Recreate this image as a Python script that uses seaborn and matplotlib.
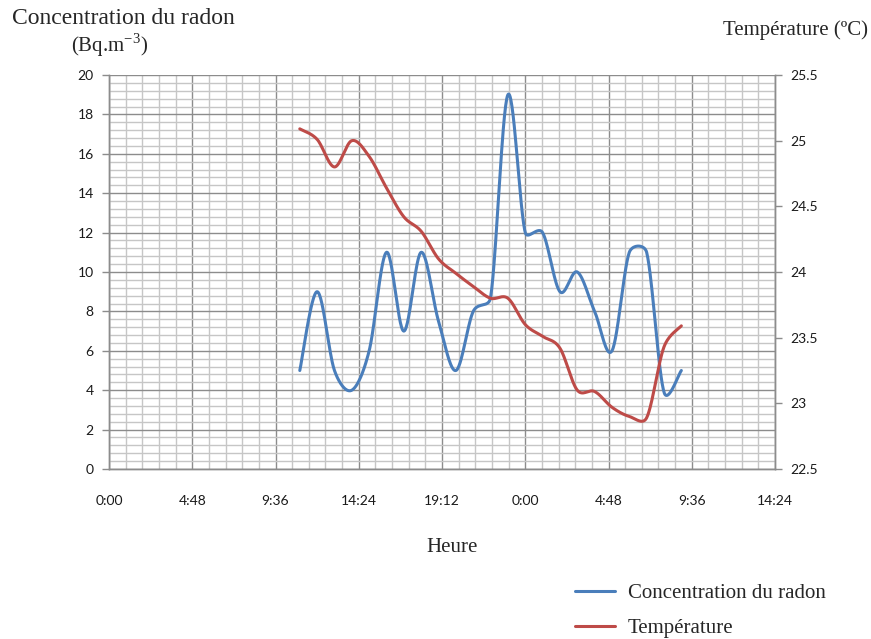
import numpy as np
import pandas as pd
import matplotlib
matplotlib.use("Agg")
import matplotlib.pyplot as plt
import seaborn as sns
from matplotlib.ticker import MultipleLocator

sns.set_style("white")
plt.rcParams['font.family'] = ['Liberation Serif', 'DejaVu Serif']
plt.rcParams['mathtext.fontset'] = 'custom'
plt.rcParams['mathtext.rm'] = 'Liberation Serif'

# Hourly readings from 11:00 (day 1) to 9:00 (day 2)
hours = list(range(11, 34))
radon = [5, 9, 5, 4, 6, 11, 7, 11, 7.5, 5, 8, 8.7, 19, 12, 12, 9, 10, 8, 6, 11, 11, 3.9, 5]
temperature = [25.09, 25.01, 24.80, 25.00, 24.88, 24.64, 24.42, 24.31, 24.10, 23.99, 23.89, 23.80,
               23.80, 23.60, 23.51, 23.42, 23.10, 23.09, 22.97, 22.90, 22.89, 23.43, 23.59]

x_ticks = [0, 0.2, 0.4, 0.6, 0.8, 1.0, 1.2, 1.4, 1.6]
x_labels = ['0:00', '4:48', '9:36', '14:24', '19:12', '0:00', '4:48', '9:36', '14:24']
left_ticks = list(range(0, 21, 2))
right_ticks = [22.5, 23, 23.5, 24, 24.5, 25, 25.5]
right_labels = ['22.5', '23', '23.5', '24', '24.5', '25', '25.5']

blue = '#4a7ebb'
red = '#be4b48'
major_grey = '#8c8c8c'
minor_grey = '#c6c6c6'


def smooth(x, y, sx, sy, n=30):
    # Excel-like smoothed line: cubic Bezier pieces, control arms 1/6 of the
    # neighbour chord, clipped to half of the adjacent segment (screen units)
    p = np.column_stack([np.asarray(x, float) * sx, np.asarray(y, float) * sy])
    m = len(p)
    t = np.linspace(0, 1, n, endpoint=False)[:, None]
    pts = []
    for i in range(m - 1):
        p1, p2 = p[i], p[i + 1]
        seg = np.linalg.norm(p2 - p1)
        tan1 = p2 - p[i - 1] if i > 0 else p2 - p1
        tan2 = p[i + 2] - p1 if i + 2 < m else p2 - p1
        f1 = min(1 / 6, 0.5 * seg / max(np.linalg.norm(tan1), 1e-9))
        f2 = min(1 / 6, 0.5 * seg / max(np.linalg.norm(tan2), 1e-9))
        c1 = p1 + tan1 * f1
        c2 = p2 - tan2 * f2
        pts.append((1 - t) ** 3 * p1 + 3 * (1 - t) ** 2 * t * c1
                   + 3 * (1 - t) * t ** 2 * c2 + t ** 3 * p2)
    pts.append(p[-1:])
    pts = np.vstack(pts)
    return pts[:, 0] / sx, pts[:, 1] / sy


days = np.array(hours) / 24.0
bx, by = smooth(days, radon, 416.25, 19.7)
rx, ry = smooth(days, temperature, 416.25, 131.3)
df_radon = pd.DataFrame({'jour': bx, 'radon': by})
df_temp = pd.DataFrame({'jour': rx, 'temp': ry})

fig = plt.figure(figsize=(8.71, 6.39), dpi=100)
ax = fig.add_axes([109 / 871, 1 - 469 / 639, (775 - 109) / 871, (469 - 75) / 639])
ax2 = ax.twinx()

sns.lineplot(data=df_radon, x='jour', y='radon', ax=ax, color=blue, lw=2.2,
             sort=False, estimator=None, label='Concentration du radon', legend=False)
sns.lineplot(data=df_temp, x='jour', y='temp', ax=ax2, color=red, lw=2.2,
             sort=False, estimator=None, label='Température', legend=False)

ax.set_xlim(0, 1.6)
ax.set_ylim(0, 20)
ax2.set_ylim(22.5, 25.5)

ax.set_xticks(x_ticks)
ax.set_xticklabels(x_labels)
ax.set_yticks(left_ticks)
ax.xaxis.set_minor_locator(MultipleLocator(0.04))
ax.yaxis.set_minor_locator(MultipleLocator(0.4))
ax2.set_yticks(right_ticks)
ax2.set_yticklabels(right_labels)

ax.grid(which='minor', color=minor_grey, lw=1.0)
ax.grid(which='major', color=major_grey, lw=1.0)
ax.set_axisbelow(True)

for a in (ax, ax2):
    for s in a.spines.values():
        s.set_color(major_grey)
        s.set_linewidth(1.0)
    a.spines['top'].set_visible(False)
    a.set_xlabel('')
    a.set_ylabel('')

ax.tick_params(axis='both', which='major', length=5, width=1, color=major_grey,
               labelcolor='#1a1a1a', pad=6)
ax.tick_params(axis='both', which='minor', length=0)
ax.tick_params(axis='x', pad=14)
ax2.tick_params(axis='y', length=5, width=1, color=major_grey, labelcolor='#1a1a1a', pad=6)
for lab in ax.get_xticklabels() + ax.get_yticklabels() + ax2.get_yticklabels():
    lab.set_fontfamily('Lato')
    lab.set_fontsize(10)

fig.text(12 / 871, 1 - 18 / 639, 'Concentration du radon', fontsize=17, ha='left', va='center')
fig.text(110 / 871, 1 - 45 / 639, '(Bq.m$^{-3}$)', fontsize=15, ha='center', va='center')
fig.text(795 / 871, 1 - 30 / 639, 'Température (ºC)', fontsize=15, ha='center', va='center')
fig.text(452 / 871, 1 - 548 / 639, 'Heure', fontsize=15, ha='center', va='center')

h1, l1 = ax.get_legend_handles_labels()
h2, l2 = ax2.get_legend_handles_labels()
fig.legend(h1 + h2, l1 + l2, loc='center left', bbox_to_anchor=(567 / 871, 1 - 611 / 639),
           frameon=False, fontsize=15, handlelength=1.9, handletextpad=0.62,
           labelspacing=0.72, borderaxespad=0)

fig.savefig('out.png', dpi=100)
